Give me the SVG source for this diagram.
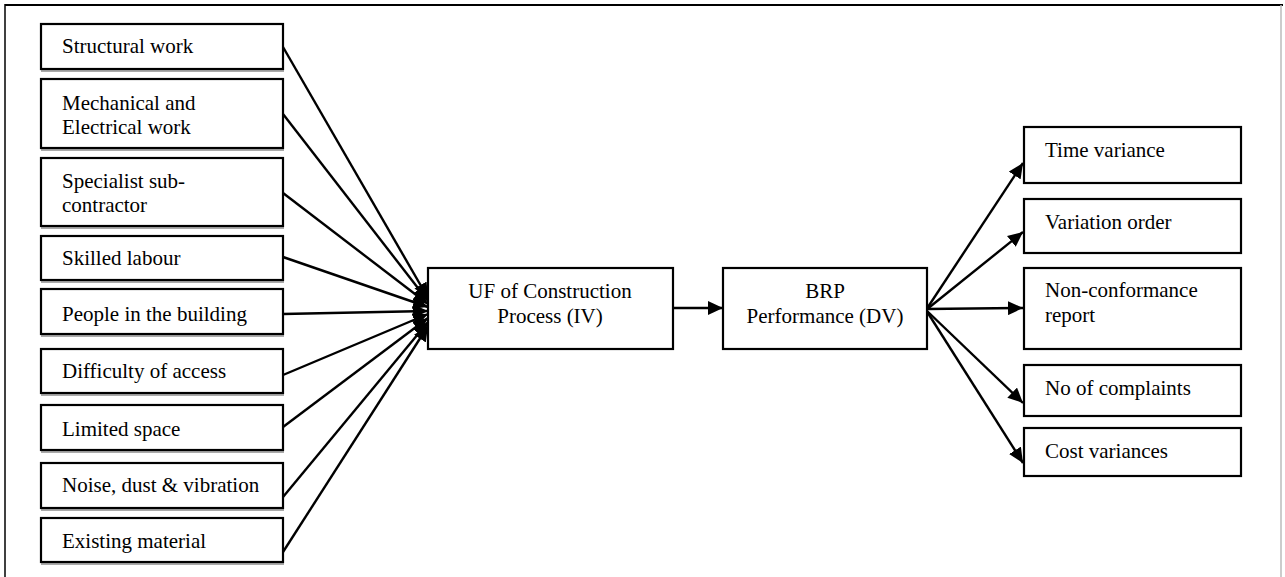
<svg xmlns="http://www.w3.org/2000/svg" width="1285" height="577" viewBox="0 0 1285 577">
<style>
.box{fill:#fff;stroke:#000;stroke-width:2.2}
.sh{fill:#aaa}
.t{font-family:"Liberation Serif","Times New Roman",serif;font-size:21px;fill:#000}
.c{text-anchor:middle}
.ln{stroke:#000;stroke-width:2.4;fill:none}
</style>
<defs>
<marker id="ah" markerUnits="userSpaceOnUse" markerWidth="16" markerHeight="14" refX="15" refY="7" orient="auto">
<path d="M0,0 L15,7 L0,14 z" fill="#000"/>
</marker>
</defs>
<rect width="1285" height="577" fill="#fff"/>
<g id="frame">
<line x1="5" y1="5" x2="1283" y2="5" stroke="#000" stroke-width="2"/>
<line x1="5" y1="4" x2="5" y2="577" stroke="#000" stroke-width="1.5"/>
<line x1="1281" y1="5" x2="1281" y2="577" stroke="#bbb" stroke-width="1.5"/>
</g>
<g id="connectors">
<line class="ln" x1="283" y1="47" x2="428" y2="298" marker-end="url(#ah)"/>
<line class="ln" x1="283" y1="114" x2="428" y2="301" marker-end="url(#ah)"/>
<line class="ln" x1="283" y1="193" x2="428" y2="304" marker-end="url(#ah)"/>
<line class="ln" x1="283" y1="257" x2="428" y2="307" marker-end="url(#ah)"/>
<line class="ln" x1="283" y1="314" x2="428" y2="311" marker-end="url(#ah)"/>
<line class="ln" x1="283" y1="375" x2="428" y2="314" marker-end="url(#ah)"/>
<line class="ln" x1="283" y1="427" x2="428" y2="318" marker-end="url(#ah)"/>
<line class="ln" x1="283" y1="497" x2="428" y2="322" marker-end="url(#ah)"/>
<line class="ln" x1="283" y1="552" x2="428" y2="326" marker-end="url(#ah)"/>
<line class="ln" x1="673" y1="308" x2="723" y2="308" marker-end="url(#ah)"/>
<line class="ln" x1="926" y1="310" x2="1023" y2="163" marker-end="url(#ah)"/>
<line class="ln" x1="926" y1="310" x2="1023" y2="232" marker-end="url(#ah)"/>
<line class="ln" x1="926" y1="309" x2="1023" y2="308" marker-end="url(#ah)"/>
<line class="ln" x1="926" y1="310" x2="1023" y2="403" marker-end="url(#ah)"/>
<line class="ln" x1="926" y1="310" x2="1023" y2="463" marker-end="url(#ah)"/>
</g>
<g id="n1"><rect class="sh" x="41" y="69" width="243" height="3"/><rect class="box" x="41" y="24" width="242" height="45"/><text class="t" x="62" y="53">Structural work</text></g>
<g id="n2"><rect class="sh" x="41" y="148" width="243" height="3"/><rect class="box" x="41" y="79" width="242" height="69"/><text class="t" x="62" y="110">Mechanical and</text><text class="t" x="62" y="134">Electrical work</text></g>
<g id="n3"><rect class="sh" x="41" y="226" width="243" height="3"/><rect class="box" x="41" y="158" width="242" height="68"/><text class="t" x="62" y="188">Specialist sub-</text><text class="t" x="62" y="212">contractor</text></g>
<g id="n4"><rect class="sh" x="41" y="280" width="243" height="3"/><rect class="box" x="41" y="236" width="242" height="44"/><text class="t" x="62" y="265">Skilled labour</text></g>
<g id="n5"><rect class="sh" x="41" y="334" width="243" height="3"/><rect class="box" x="41" y="289" width="242" height="45"/><text class="t" x="62" y="321">People in the building</text></g>
<g id="n6"><rect class="sh" x="41" y="393" width="243" height="3"/><rect class="box" x="41" y="349" width="242" height="44"/><text class="t" x="62" y="378">Difficulty of access</text></g>
<g id="n7"><rect class="sh" x="41" y="450" width="243" height="3"/><rect class="box" x="41" y="405" width="242" height="45"/><text class="t" x="62" y="436">Limited space</text></g>
<g id="n8"><rect class="sh" x="41" y="508" width="243" height="3"/><rect class="box" x="41" y="463" width="242" height="45"/><text class="t" x="62" y="492">Noise, dust &amp; vibration</text></g>
<g id="n9"><rect class="sh" x="41" y="562" width="243" height="3"/><rect class="box" x="41" y="518" width="242" height="44"/><text class="t" x="62" y="548">Existing material</text></g>
<g id="uf"><rect class="box" x="428" y="268" width="245" height="81"/><text class="t c" x="550" y="298">UF of Construction</text><text class="t c" x="550" y="323">Process (IV)</text></g>
<g id="brp"><rect class="box" x="723" y="268" width="204" height="81"/><text class="t c" x="825" y="298">BRP</text><text class="t c" x="825" y="323">Performance (DV)</text></g>
<g id="r1"><rect class="box" x="1024" y="127" width="217" height="56"/><text class="t" x="1045" y="157">Time variance</text></g>
<g id="r2"><rect class="box" x="1024" y="199" width="217" height="54"/><text class="t" x="1045" y="229">Variation order</text></g>
<g id="r3"><rect class="box" x="1024" y="268" width="217" height="81"/><text class="t" x="1045" y="297">Non-conformance</text><text class="t" x="1045" y="322">report</text></g>
<g id="r4"><rect class="box" x="1024" y="365" width="217" height="51"/><text class="t" x="1045" y="395">No of complaints</text></g>
<g id="r5"><rect class="box" x="1024" y="428" width="217" height="48"/><text class="t" x="1045" y="458">Cost variances</text></g>
</svg>
